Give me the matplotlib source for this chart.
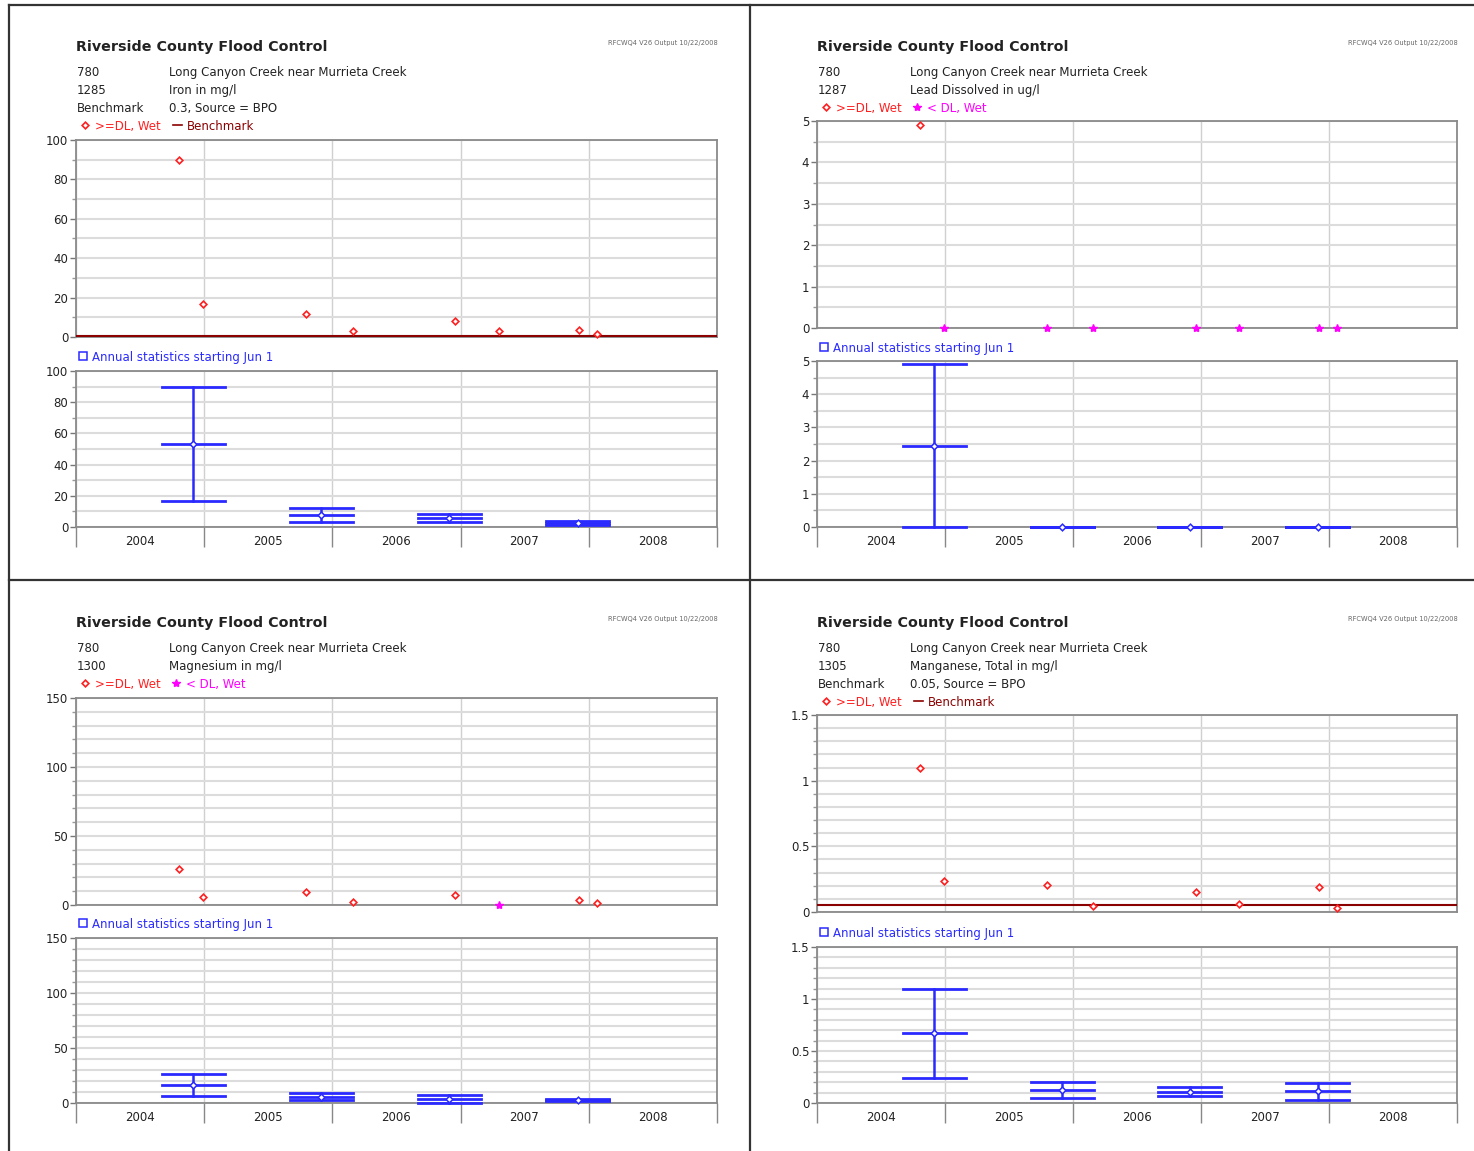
import numpy as np
import datetime as dt
import matplotlib
matplotlib.use("Agg")
import matplotlib.pyplot as plt
import matplotlib.dates as mdates
from matplotlib.lines import Line2D

plt.rcParams['font.family'] = ['DejaVu Sans']

# ---------------- data ----------------
sample_dates = ["2004-10-21", "2004-12-29", "2005-10-18", "2006-02-28",
                "2006-12-17", "2007-04-20", "2007-12-04", "2008-01-25"]

iron_vals = [90.0, 16.8, 11.9, 2.9, 8.3, 3.2, 3.6, 1.5]
iron_detected = [True, True, True, True, True, True, True, True]
iron_benchmark = 0.3

lead_vals = [4.9, 0, 0, 0, 0, 0, 0, 0]
lead_detected = [True, False, False, False, False, False, False, False]

mg_vals = [26.2, 6.0, 9.1, 2.4, 7.0, 0.0, 3.4, 1.7]
mg_detected = [True, True, True, True, True, False, True, True]

mn_vals = [1.10, 0.237, 0.204, 0.046, 0.155, 0.064, 0.193, 0.03]
mn_detected = [True, True, True, True, True, True, True, True]
mn_benchmark = 0.05

year_labels = ["2004", "2005", "2006", "2007", "2008"]
water_years = [2004, 2005, 2006, 2007]

iron_ticks = [0, 20, 40, 60, 80, 100]
iron_ticklabels = ["0", "20", "40", "60", "80", "100"]
lead_ticks = [0, 1, 2, 3, 4, 5]
lead_ticklabels = ["0", "1", "2", "3", "4", "5"]
mg_ticks = [0, 50, 100, 150]
mg_ticklabels = ["0", "50", "100", "150"]
mn_ticks = [0, 0.5, 1.0, 1.5]
mn_ticklabels = ["0", "0.5", "1", "1.5"]

station = "780"
station_name = "Long Canyon Creek near Murrieta Creek"
header = "Riverside County Flood Control"
stamp = "RFCWQ4 V26 Output 10/22/2008"

# ---------------- figure ----------------
W, H = 1474, 1151
fig = plt.figure(figsize=(W / 100, H / 100), dpi=100)

RED = '#ff2020'
MAG = '#ff00ff'
BEN = '#8b0000'
BLUE = '#2a2aff'
TXT = '#222222'
FS = 8.5
VA = 'center_baseline'

def fx(px):
    return px / W

def fy(py):
    return 1 - py / H

def add_ax(l, r, t, b):
    return fig.add_axes([fx(l), fy(b), (r - l) / W, (b - t) / H])

xmin = mdates.date2num(dt.datetime(2004, 1, 1))
xmax = mdates.date2num(dt.datetime(2009, 1, 1))
year_bounds = [mdates.date2num(dt.datetime(y, 1, 1)) for y in range(2004, 2010)]
year_mids = [mdates.date2num(dt.datetime(int(y), 7, 2)) for y in year_labels]
xdates = np.array([mdates.date2num(dt.datetime.strptime(d, "%Y-%m-%d")) for d in sample_dates])


def style_axes(ax, ymax, ticks, ticklabels, minor_step, lower):
    ax.set_xlim(xmin, xmax)
    ax.set_ylim(0, ymax)
    ax.set_facecolor('white')
    for s in ax.spines.values():
        s.set_color('#8a8a8a')
        s.set_linewidth(1.3)
    ax.set_yticks(ticks)
    ax.set_yticklabels(ticklabels)
    ax.set_yticks(np.arange(0, ymax + minor_step / 2, minor_step), minor=True)
    ax.tick_params(axis='y', which='major', length=4, width=1, color='#777777',
                   labelsize=FS, labelcolor=TXT, pad=1.5)
    ax.tick_params(axis='y', which='minor', length=3, width=1, color='#999999')
    ax.yaxis.grid(True, which='both', color='#dcdcdc', lw=1.5, zorder=0)
    ax.set_xticks(year_bounds)
    ax.xaxis.grid(True, which='major', color='#d0d0d0', lw=1.0, zorder=0)
    if lower:
        ax.set_xticklabels([])
        ax.tick_params(axis='x', which='major', length=14.5, width=1, color='#888888')
        ax.set_xticks(year_mids, minor=True)
        ax.set_xticklabels(year_labels, minor=True)
        ax.tick_params(axis='x', which='minor', length=0, labelsize=FS,
                       labelcolor=TXT, pad=6)
    else:
        ax.set_xticklabels([])
        ax.tick_params(axis='x', which='major', length=0)
    ax.set_axisbelow(True)


def annual_stats(vals):
    v = np.array(vals, dtype=float)
    centers, mx, mn, me = [], [], [], []
    for y in water_years:
        a = mdates.date2num(dt.datetime(y, 6, 1))
        b = mdates.date2num(dt.datetime(y + 1, 6, 1))
        m = (xdates >= a) & (xdates < b)
        if m.any():
            centers.append((a + b) / 2)
            mx.append(v[m].max())
            mn.append(v[m].min())
            me.append(v[m].mean())
    return centers, mx, mn, me


panels = [
    dict(xl=76, xr=717, xt2=169, title_y=46,
         rows=[(station, station_name), ("1285", "Iron in mg/l"),
               ("Benchmark", "0.3, Source = BPO")],
         legend_y=125, up=(140, 337), ann_y=356, low=(371, 527), lab_y=541,
         vals=iron_vals, det=iron_detected, bench=iron_benchmark,
         ymax=100, ticks=iron_ticks, tl=iron_ticklabels, minor=10),
    dict(xl=817, xr=1457, xt2=910, title_y=46,
         rows=[(station, station_name), ("1287", "Lead Dissolved in ug/l")],
         legend_y=107, up=(121, 328), ann_y=347, low=(361, 527), lab_y=541,
         vals=lead_vals, det=lead_detected, bench=None,
         ymax=5, ticks=lead_ticks, tl=lead_ticklabels, minor=0.5),
    dict(xl=76, xr=717, xt2=169, title_y=622,
         rows=[(station, station_name), ("1300", "Magnesium in mg/l")],
         legend_y=683, up=(698, 905), ann_y=923, low=(938, 1103), lab_y=1117,
         vals=mg_vals, det=mg_detected, bench=None,
         ymax=150, ticks=mg_ticks, tl=mg_ticklabels, minor=10),
    dict(xl=817, xr=1457, xt2=910, title_y=622,
         rows=[(station, station_name), ("1305", "Manganese, Total in mg/l"),
               ("Benchmark", "0.05, Source = BPO")],
         legend_y=701, up=(715, 912), ann_y=932, low=(947, 1103), lab_y=1117,
         vals=mn_vals, det=mn_detected, bench=mn_benchmark,
         ymax=1.5, ticks=mn_ticks, tl=mn_ticklabels, minor=0.1),
]

for p in panels:
    xl, xr = p['xl'], p['xr']
    # header texts
    fig.text(fx(xl), fy(p['title_y']), header, fontsize=10.3, fontweight='bold',
             color=TXT, va=VA, ha='left')
    fig.text(fx(xr + 1), fy(p['title_y'] - 4), stamp, fontsize=4.8, color='#666666',
             va=VA, ha='right')
    for i, (a, b) in enumerate(p['rows']):
        yy = p['title_y'] + 25 + 18 * i
        fig.text(fx(xl + 1), fy(yy), a, fontsize=FS, color=TXT, va=VA, ha='left')
        fig.text(fx(p['xt2']), fy(yy), b, fontsize=FS, color=TXT, va=VA, ha='left')
    # legend row
    ly = p['legend_y']
    fig.add_artist(Line2D([fx(xl + 9)], [fy(ly)], transform=fig.transFigure, marker='D',
                          ms=3.4, mfc='white', mec=RED, mew=1.2, ls='none'))
    fig.text(fx(xl + 19), fy(ly), ">=DL, Wet", fontsize=FS, color=RED, va=VA)
    if p['bench'] is not None:
        fig.add_artist(Line2D([fx(xl + 97), fx(xl + 106)], [fy(ly), fy(ly)],
                              transform=fig.transFigure, color=BEN, lw=1.2))
        fig.text(fx(xl + 111), fy(ly), "Benchmark", fontsize=FS, color=BEN, va=VA)
    else:
        fig.add_artist(Line2D([fx(xl + 100)], [fy(ly)], transform=fig.transFigure,
                              marker='*', ms=6, mfc=MAG, mec=MAG, ls='none'))
        fig.text(fx(xl + 110), fy(ly), "< DL, Wet", fontsize=FS, color=MAG, va=VA)

    # upper axes: individual samples
    ax = add_ax(xl, xr, p['up'][0], p['up'][1])
    style_axes(ax, p['ymax'], p['ticks'], p['tl'], p['minor'], lower=False)
    vals = np.array(p['vals'], dtype=float)
    det = np.array(p['det'])
    if p['bench'] is not None:
        ax.axhline(p['bench'], color=BEN, lw=1.5, zorder=3)
    ax.plot(xdates[det], vals[det], ls='none', marker='D', ms=3.4, mfc='white',
            mec=RED, mew=1.2, zorder=4, clip_on=False)
    if (~det).any():
        ax.plot(xdates[~det], vals[~det], ls='none', marker='*', ms=6, mfc=MAG,
                mec=MAG, zorder=4, clip_on=False)

    # annual statistics label
    fig.add_artist(Line2D([fx(xl + 7)], [fy(p['ann_y'])], transform=fig.transFigure,
                          marker='s', ms=5.5, mfc='white', mec=BLUE, mew=1.1, ls='none'))
    fig.text(fx(xl + 16), fy(p['ann_y']), "Annual statistics starting Jun 1", fontsize=FS,
             color=BLUE, va=VA)

    # lower axes: annual stats
    ax2 = add_ax(xl, xr, p['low'][0], p['low'][1])
    style_axes(ax2, p['ymax'], p['ticks'], p['tl'], p['minor'], lower=True)
    centers, mxs, mns, mes = annual_stats(p['vals'])
    half = 90
    for c, hi, lo, me in zip(centers, mxs, mns, mes):
        ax2.plot([c, c], [lo, hi], color=BLUE, lw=1.8, zorder=4, clip_on=False)
        for v in (hi, me, lo):
            ax2.plot([c - half, c + half], [v, v], color=BLUE, lw=2.0, zorder=4,
                     clip_on=False)
        ax2.plot([c], [me], ls='none', marker='D', ms=3.4, mfc='white', mec=BLUE,
                 mew=1.1, zorder=5, clip_on=False)

# panel frame lines
frame_c = '#333333'
fig.add_artist(Line2D([fx(9), fx(W)], [fy(5), fy(5)], transform=fig.transFigure, color=frame_c, lw=1.6))
fig.add_artist(Line2D([fx(9), fx(9)], [fy(5), fy(H)], transform=fig.transFigure, color=frame_c, lw=1.6))
fig.add_artist(Line2D([fx(750), fx(750)], [fy(5), fy(H)], transform=fig.transFigure, color=frame_c, lw=1.6))
fig.add_artist(Line2D([fx(9), fx(W)], [fy(580), fy(580)], transform=fig.transFigure, color=frame_c, lw=1.6))

fig.savefig("out.png", dpi=100, facecolor='white')
